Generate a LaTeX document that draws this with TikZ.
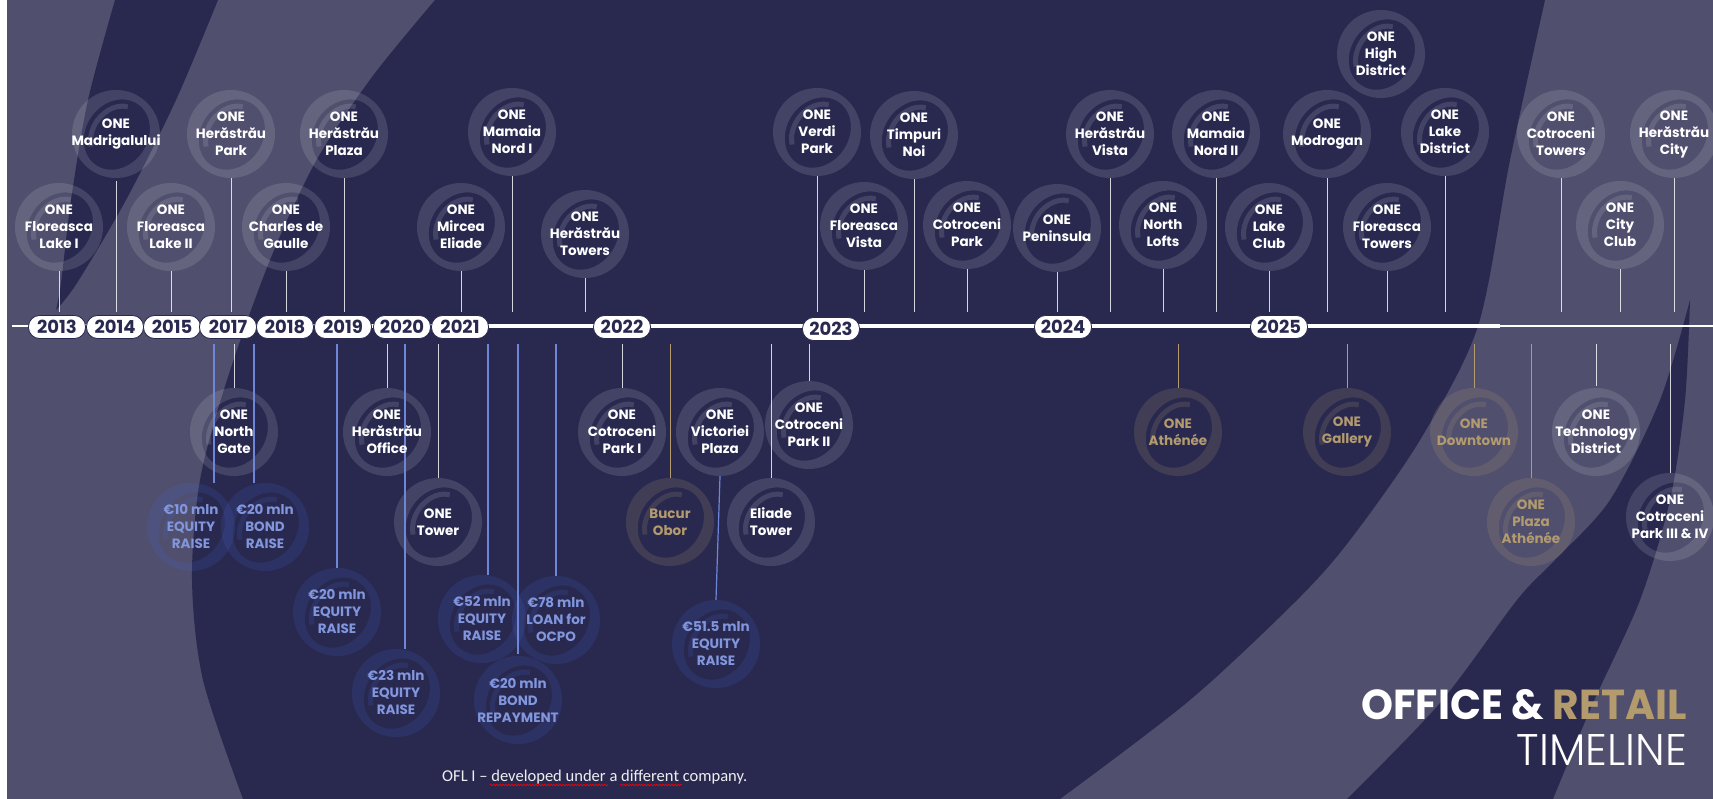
\documentclass[tikz,border=0pt]{standalone}
\usepackage{fontspec}
\usepackage{graphicx}
\usetikzlibrary{calc,decorations.pathmorphing}
\newfontfamily\popf{Poppins}
\newfontfamily\popl{Poppins Light}
\newfontfamily\carl{Carlito}
\definecolor{bgdark}{RGB}{41,41,80}
\definecolor{bglight}{RGB}{80,79,110}
\definecolor{goldc}{RGB}{179,155,110}
\definecolor{bluet}{RGB}{129,150,221}
\definecolor{bluel}{RGB}{110,134,216}
\definecolor{ringblue}{RGB}{70,100,210}
\definecolor{ringgold}{RGB}{185,160,115}
\pgfdeclarelayer{back}
\pgfdeclarelayer{mid}
\pgfsetlayers{back,mid,main}
\newcommand\labfont{\popf\bfseries\fontsize{13.5}{17}\selectfont}
\newcommand\ringlogo[3]{%
  \begin{scope}[shift={(#1.center)},x=1pt,y=1pt,rotate=-35]
    \fill[#2,fill opacity=#3,even odd rule] (0,0) circle[radius=44pt] (1pt,0) ellipse[x radius=31pt,y radius=37pt];
    \draw[#2,draw opacity=#3,line width=5pt] (105:23pt and 30pt) arc[start angle=105,end angle=235,x radius=23pt,y radius=30pt];
  \end{scope}}
\begin{document}
\begin{tikzpicture}[x=1pt,y=-1pt,
  item/.style={circle,minimum size=88pt,inner sep=0pt,align=center,font=\labfont,text=white},
  gitem/.style={item,text=goldc},
  fitem/.style={item,text=bluet},
  year/.style={draw=bgdark,line width=0.8pt,fill=white,rounded corners=11pt,minimum width=57pt,minimum height=23pt,inner sep=0pt,font=\popf\bfseries\fontsize{18}{18}\selectfont,text=bgdark},
  wstem/.style={white,draw opacity=0.8,line width=1pt},
  bstem/.style={bluel,line width=1.2pt},
  gstem/.style={goldc,line width=1pt}]
\useasboundingbox (0,0) rectangle (1713,799);
\begin{pgfonlayer}{back}
  \fill[white] (0,0) rectangle (1713,799);
  \fill[bglight] (7,0) rectangle (1713,799);
  \fill[bgdark] plot[smooth] coordinates {(1545,0) (1510,160) (1478,326) (1420,440) (1350,540) (1297,600) (1190,700) (1060,799)}
     -- plot[smooth] coordinates {(243,799) (203,680) (192,580) (200,480) (227,380) (270,260) (316,161) (372,77) (435,0)} -- cycle;
  \fill[bgdark] plot[smooth] coordinates {(115,0) (88,100) (71,200) (61,283) (56,310)}
     -- plot[smooth] coordinates {(56,310) (77,283) (126,200) (176,100) (218,0)} -- cycle;
  \fill[bgdark] plot[smooth] coordinates {(1690,300) (1660,400) (1610,500) (1555,560) (1517,600) (1440,703) (1347,799)}
     -- plot[smooth] coordinates {(1553,799) (1593,703) (1640,600) (1670,500) (1685,400) (1690,300)} -- cycle;
\end{pgfonlayer}

% timeline
\coordinate (tlL) at (12,326);
\coordinate (tlA) at (29,326);
\coordinate (tlB) at (1500,326);
\coordinate (tlR) at (1713,326);
\coordinate (tlU) at (0,312);
\coordinate (tlD) at (0,344);
\draw[white,line width=1.5pt] (tlL) -- (tlA);
\draw[white,line width=4pt] (tlA) -- (tlB);
\draw[white,line width=1.8pt] (tlB) -- (tlR);

\node[year] (y13) at (57,327) {2013};
\node[year] (y14) at (115,327) {2014};
\node[year] (y15) at (172,327) {2015};
\node[year] (y17) at (228,327) {2017};
\node[year] (y18) at (285,327) {2018};
\node[year] (y19) at (343,327) {2019};
\node[year] (y20) at (402,327) {2020};
\node[year] (y21) at (460,327) {2021};
\node[year] (y22) at (622,327) {2022};
\node[year] (y23) at (831,329) {2023};
\node[year] (y24) at (1063,327) {2024};
\node[year] (y25) at (1279,327) {2025};

% upper tier
\node[item] (U1) at (116,134) {ONE\\Madrigalului};
\node[item] (U2) at (231,134) {ONE\\Herăstrău\\Park};
\node[item] (U3) at (344,134) {ONE\\Herăstrău\\Plaza};
\node[item] (U4) at (512,132) {ONE\\Mamaia\\Nord I};
\node[item] (U5) at (817,132) {ONE\\Verdi\\Park};
\node[item] (U6) at (914,135) {ONE\\Timpuri\\Noi};
\node[item] (U7) at (1110,134) {ONE\\Herăstrău\\Vista};
\node[item] (U8) at (1216,134) {ONE\\Mamaia\\Nord II};
\node[item] (U9) at (1327,134) {ONE\\Modrogan};
\node[item] (U10) at (1445,132) {ONE\\Lake\\District};
\node[item] (U11) at (1561,134) {ONE\\Cotroceni\\Towers};
\node[item] (U12) at (1674,134) {ONE\\Herăstrău\\City};
\node[item] (U13) at (1381,54) {ONE\\High\\District};
% lower tier
\node[item] (L1) at (59,227) {ONE\\Floreasca\\Lake I};
\node[item] (L2) at (171,227) {ONE\\Floreasca\\Lake II};
\node[item] (L3) at (286,227) {ONE\\Charles de\\Gaulle};
\node[item] (L4) at (461,227) {ONE\\Mircea\\Eliade};
\node[item] (L5) at (585,234) {ONE\\Herăstrău\\Towers};
\node[item] (L6) at (864,226) {ONE\\Floreasca\\Vista};
\node[item] (L7) at (967,225) {ONE\\Cotroceni\\Park};
\node[item] (L8) at (1057,228) {ONE\\Peninsula};
\node[item] (L9) at (1163,225) {ONE\\North\\Lofts};
\node[item] (L10) at (1269,227) {ONE\\Lake\\Club};
\node[item] (L11) at (1387,227) {ONE\\Floreasca\\Towers};
\node[item] (L12) at (1620,225) {ONE\\City\\Club};
% below, office
\node[item] (B1) at (234,432) {ONE\\North\\Gate};
\node[item] (B2) at (387,432) {ONE\\Herăstrău\\Office};
\node[item] (B3) at (438,522) {ONE\\Tower};
\node[item] (B4) at (622,432) {ONE\\Cotroceni\\Park I};
\node[item] (B5) at (720,432) {ONE\\Victoriei\\Plaza};
\node[item] (B6) at (809,425) {ONE\\Cotroceni\\Park II};
\node[item] (B7) at (771,522) {Eliade\\Tower};
\node[item] (B8) at (1596,432) {ONE\\Technology\\District};
\node[item] (B9) at (1670,517) {ONE\\Cotroceni\\Park III \& IV};
% retail
\node[gitem] (G1) at (670,522) {Bucur\\Obor};
\node[gitem] (G2) at (1178,432) {ONE\\Athénée};
\node[gitem] (G3) at (1347,432) {ONE\\Gallery};
\node[gitem] (G4) at (1474,432) {ONE\\Downtown};
\node[gitem] (G5) at (1531,522) {ONE\\Plaza\\Athénée};
% finance
\node[fitem] (F1) at (191,527) {€10 mln\\EQUITY\\RAISE};
\node[fitem] (F2) at (265,527) {€20 mln\\BOND\\RAISE};
\node[fitem] (F3) at (337,612) {€20 mln\\EQUITY\\RAISE};
\node[fitem] (F4) at (396,693) {€23 mln\\EQUITY\\RAISE};
\node[fitem] (F5) at (482,619) {€52 mln\\EQUITY\\RAISE};
\node[fitem] (F6) at (556,620) {€78 mln\\LOAN for\\OCPO};
\node[fitem] (F7) at (518,700) {€20 mln\\BOND\\REPAYMENT};
\node[fitem] (F8) at (716,644) {€51.5 mln\\EQUITY\\RAISE};

\coordinate (sF1) at (214,0);
\coordinate (sF2) at (254,0);
\coordinate (sF4) at (405,0);
\coordinate (sF5) at (488,0);

\begin{pgfonlayer}{mid}
  \foreach \n in {U1,U2,U3,U4,U5,U6,U7,U8,U9,U10,U11,U12,U13,L1,L2,L3,L4,L5,L6,L7,L8,L9,L10,L11,L12,B1,B2,B3,B4,B5,B6,B7,B8,B9}
    {\ringlogo{\n}{white}{0.12}}
  \foreach \n in {G1,G2,G3,G4,G5}
    {\ringlogo{\n}{ringgold}{0.17}}
  \foreach \n in {F1,F2,F3,F4,F5,F6,F7,F8}
    {\ringlogo{\n}{ringblue}{0.16}}
  \foreach \n in {U1,U2,U3,U4,U5,U6,U7,U8,U9,U10,U11,U12,L1,L2,L3,L4,L5,L6,L7,L8,L9,L10,L11,L12}
    {\draw[wstem] (\n.south) -- (\n.south |- tlU);}
  \foreach \n in {B1,B2,B3,B4,B6,B7,B8,B9}
    {\draw[wstem] (tlD -| \n) -- (\n.north);}
  \foreach \n in {G1,G2,G3,G4,G5}
    {\draw[gstem] (tlD -| \n) -- (\n.north);}
  \draw[bstem] (tlD -| sF1) -- (F1.north -| sF1);
  \draw[bstem] (tlD -| sF2) -- (F2.north -| sF2);
  \draw[bstem] (tlD -| F3) -- (F3.north);
  \draw[bstem] (tlD -| sF4) -- (F4.north -| sF4);
  \draw[bstem] (tlD -| sF5) -- (F5.north -| sF5);
  \draw[bstem] (tlD -| F6) -- (F6.north);
  \draw[bstem] (tlD -| F7) -- (F7.north);
  \draw[bstem] (B5.south) -- (F8.north);
\end{pgfonlayer}

% title
\node[anchor=south east,inner sep=0pt] (ttl) at (1687,720)
  {\resizebox{325pt}{30pt}{\popf\bfseries\color{white}OFFICE \& \color{goldc}RETAIL}};
\node[anchor=south east,inner sep=0pt,text=white] (tml) at (1687,766)
  {\resizebox{170pt}{31pt}{\popl TIMELINE}};
% footer
\node[anchor=base west,inner sep=0pt,text=white!92!bgdark] (foot) at (442,781)
  {\resizebox{305pt}{!}{\carl OFL I – developed under a different company.}};
\draw[red,line width=0.6pt,decorate,decoration={snake,amplitude=0.8pt,segment length=3pt}] (490,785) -- (608,785);
\draw[red,line width=0.6pt,decorate,decoration={snake,amplitude=0.8pt,segment length=3pt}] (620,785) -- (682,785);
\end{tikzpicture}
\end{document}
